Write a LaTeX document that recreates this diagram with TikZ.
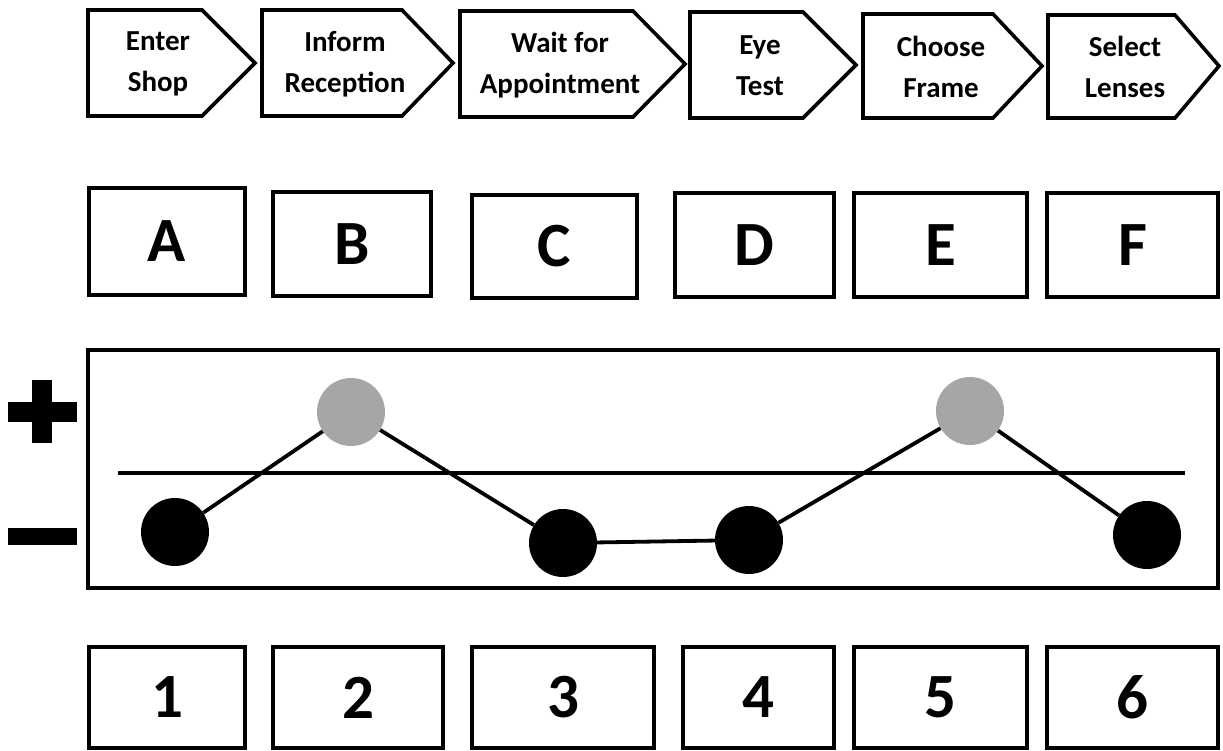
\documentclass[tikz,border=0pt]{standalone}
\usepackage{fontspec}
\setmainfont{Carlito}
\usepackage{tikz}
\usetikzlibrary{positioning,calc}

\begin{document}
\begin{tikzpicture}[ x=1pt, y=-1pt, stageline/.style={line width=3.6pt,
      line join=miter}, stagetext/.style={align=center, inner sep=0pt,
      font=\fontsize{29pt}{41pt}\selectfont\bfseries},
      letterbox/.style={draw, line width=3.6pt, inner sep=0pt, minimum
      height=104, font=\fontsize{63pt}{72pt}\selectfont\bfseries},
      blackdot/.style={circle, fill=black, inner sep=0pt, minimum size=68},
      greydot/.style={circle, fill=black!35, inner sep=0pt, minimum size=68},
      trendline/.style={line width=3.8pt}, sign/.style={fill=black, inner
      sep=0pt, outer sep=0pt} ]
    \useasboundingbox (0,0) rectangle (1223,751);

    % Process steps
    \draw[stageline] (88,10) -- (202,10) -- (255,63) -- (202,116) -- (88,116)
    -- cycle; \node[stagetext] (enter) at (158,64) {Enter\\Shop};
    \draw[stageline] (262,10) -- (402,10) -- (453,63) -- (402,116) --
    (262,116) -- cycle; \node[stagetext] (inform) at (345,64)
    {Inform\\Reception};
    \draw[stageline] (460,11) -- (633,11) -- (685,64) -- (633,117) --
    (460,117) -- cycle; \node[stagetext] (wait) at (560,65) {Wait
    for\\Appointment};
    \draw[stageline] (690,12) -- (803,12) -- (856,65) -- (803,118) --
    (690,118) -- cycle; \node[stagetext] (eye) at (760,66) {Eye\\Test};
    \draw[stageline] (863,14) -- (993,14) -- (1042,66) -- (993,118) --
    (863,118) -- cycle; \node[stagetext] (frame) at (941,67)
    {Choose\\Frame};
    \draw[stageline] (1048,15) -- (1175,15) -- (1219,66) -- (1175,118) --
    (1048,118) -- cycle; \node[stagetext] (lenses) at (1125,67)
    {Select\\Lenses};

    % Letter boxes
    \node[letterbox, minimum width=156, minimum height=107] (A) at
    (167,241.5) {A}; \node[letterbox, minimum width=158] (B) at (352,244)
    {B}; \node[letterbox, minimum width=165, minimum height=103] (C) at
    (554.5,246.5) {C}; \node[letterbox, minimum width=159] (D) at (754.5,245)
    {D}; \node[letterbox, minimum width=173] (E) at (940.5,245) {E};
    \node[letterbox, minimum width=171] (F) at (1132.5,245) {F};

    % Plus and minus
    \node[sign, minimum width=69, minimum height=20] (plush) at (42.5,412) {};
    \node[sign, minimum width=20, minimum height=63] (plusv) at (42,411.5) {};
    \node[sign, minimum width=69, minimum height=17] (minus) at (42.5,536.5)
    {};

    % Rating panel
    \node[draw, line width=3.6pt, minimum width=1130, minimum height=238]
    (panel) at (653,469) {};
    \coordinate (zeroL) at (118,473); \coordinate (zeroR) at (1185,473);
    \draw[line width=3.4pt] (zeroL) -- (zeroR);

    % Experience points
    \node[blackdot] (p1) at (175,532) {}; \node[greydot] (p2) at (351,412) {};
    \node[blackdot] (p3) at (563,543) {}; \node[blackdot] (p4) at (749,540)
    {}; \node[greydot] (p5) at (970,411) {}; \node[blackdot] (p6) at
    (1147,535) {};
    \draw[trendline] (p1) -- (p2); \draw[trendline] (p2) -- (p3);
    \draw[trendline] (p3) -- (p4); \draw[trendline] (p4) -- (p5);
    \draw[trendline] (p5) -- (p6);

    % Number boxes
    \node[letterbox, minimum width=156, minimum height=101] (n1) at
    (167,697.5) {1}; \node[letterbox, minimum width=170, minimum height=101]
    (n2) at (358,697.5) {2}; \node[letterbox, minimum width=182, minimum
    height=101] (n3) at (563,697.5) {3}; \node[letterbox, minimum width=151,
    minimum height=101] (n4) at (758.5,697.5) {4}; \node[letterbox, minimum
    width=173, minimum height=101] (n5) at (940.5,697.5) {5};
    \node[letterbox, minimum width=171, minimum height=101] (n6) at
    (1132.5,697.5) {6};

    \end{tikzpicture}
\end{document}
